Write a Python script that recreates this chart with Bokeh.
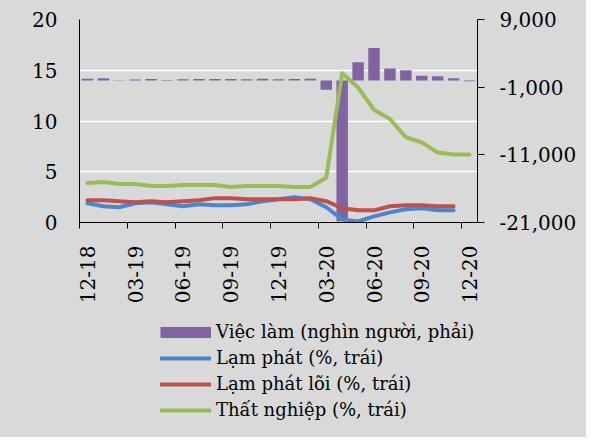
import math
from bokeh.plotting import figure
from bokeh.layouts import column
from bokeh.models import (Range1d, LinearAxis, FixedTicker, NumeralTickFormatter,
                          Legend, LegendItem, ColumnDataSource)
from bokeh.embed import file_html
from bokeh.resources import INLINE

# ---- data ----
months = ["12-18", "01-19", "02-19", "03-19", "04-19", "05-19", "06-19", "07-19", "08-19",
          "09-19", "10-19", "11-19", "12-19", "01-20", "02-20", "03-20", "04-20", "05-20",
          "06-20", "07-20", "08-20", "09-20", "10-20", "11-20", "12-20"]
tick_labels = ["12-18", "03-19", "06-19", "09-19", "12-19", "03-20", "06-20", "09-20", "12-20"]
employment = [230, 310, 30, 150, 210, 70, 180, 190, 200, 200, 180, 260, 180, 210, 250,
              -1380, -20800, 2690, 4800, 1750, 1510, 680, 610, 330, -140]
inflation = [1.9, 1.6, 1.5, 1.9, 2.0, 1.8, 1.6, 1.8, 1.7, 1.7, 1.8, 2.1, 2.3, 2.5, 2.3,
             1.5, 0.3, 0.1, 0.6, 1.0, 1.3, 1.4, 1.2, 1.2]
core_inflation = [2.2, 2.2, 2.1, 2.0, 2.1, 2.0, 2.1, 2.2, 2.4, 2.4, 2.3, 2.3, 2.3, 2.3, 2.4,
                  2.1, 1.4, 1.2, 1.2, 1.6, 1.7, 1.7, 1.6, 1.6]
unemployment = [3.9, 4.0, 3.8, 3.8, 3.6, 3.6, 3.7, 3.7, 3.7, 3.5, 3.6, 3.6, 3.6, 3.5, 3.5,
                4.4, 14.7, 13.3, 11.1, 10.2, 8.4, 7.9, 6.9, 6.7, 6.7]
left_ticks = [0, 5, 10, 15, 20]
right_ticks = [-21000, -11000, -1000, 9000]
series_names = ["Việc làm (nghìn người, phải)", "Lạm phát (%, trái)",
                "Lạm phát lõi (%, trái)", "Thất nghiệp (%, trái)"]

FONT = "DejaVu Serif"
BG = "#d9d9d9"
PURPLE = "#8064a2"
BLUE = "#4a86cc"
RED = "#c0504d"
GREEN = "#9bbb59"
LW = 4
NAN = float("nan")

n = len(months)
xc = [i + 0.5 for i in range(n)]

p = figure(width=586, height=306, output_backend="svg", toolbar_location=None,
           x_range=Range1d(0, n), y_range=Range1d(0, 20),
           min_border_left=79, min_border_right=109, min_border_top=19, min_border_bottom=77)
p.background_fill_color = BG
p.border_fill_color = BG
p.outline_line_color = None

p.extra_y_ranges = {"emp": Range1d(-21000, 9000)}

# grid
p.xgrid.visible = False
p.ygrid.ticker = FixedTicker(ticks=left_ticks)
p.ygrid.grid_line_color = "white"
p.ygrid.grid_line_width = 1.5

# bars
src_bar = ColumnDataSource(dict(x=xc, top=employment))
p.vbar(x="x", top="top", bottom=0, width=0.72, source=src_bar, y_range_name="emp",
       fill_color=PURPLE, line_color=None)

# lines
p.line(xc[:len(inflation)], inflation, line_color=BLUE, line_width=LW,
       line_cap="round", line_join="round")
p.line(xc[:len(core_inflation)], core_inflation, line_color=RED, line_width=LW,
       line_cap="round", line_join="round")
p.line(xc, unemployment, line_color=GREEN, line_width=LW,
       line_cap="round", line_join="round")

# left axis
ya = p.yaxis[0]
ya.ticker = FixedTicker(ticks=left_ticks)
ya.major_tick_out = 0
ya.major_tick_in = 0
ya.minor_tick_line_color = None
ya.axis_line_color = "black"
ya.axis_line_width = 1
ya.major_label_standoff = 22
ya.major_label_text_font = FONT
ya.major_label_text_font_size = "20px"
ya.major_label_text_color = "black"

# right axis
ra = LinearAxis(y_range_name="emp", ticker=FixedTicker(ticks=right_ticks),
                formatter=NumeralTickFormatter(format="0,0"))
ra.major_tick_out = 7
ra.major_tick_in = 0
ra.minor_tick_line_color = None
ra.axis_line_color = "black"
ra.major_tick_line_color = "black"
ra.major_label_standoff = 15
ra.major_label_text_font = FONT
ra.major_label_text_font_size = "20px"
ra.major_label_text_color = "black"
p.add_layout(ra, "right")

# bottom axis: labels at category centres, tick marks at boundaries (minor ticks)
label_pos = [months.index(t) + 0.5 for t in tick_labels]
xa = p.xaxis[0]
xa.ticker = FixedTicker(ticks=label_pos, minor_ticks=[i for i in range(0, n, 3)])
xa.major_label_overrides = {pos: t for pos, t in zip(label_pos, tick_labels)}
xa.major_tick_line_color = None
xa.major_tick_out = 0
xa.major_tick_in = 0
xa.minor_tick_line_color = "black"
xa.minor_tick_out = 6
xa.minor_tick_in = 0
xa.axis_line_color = "black"
xa.major_label_orientation = math.pi / 2
xa.major_label_standoff = 17
xa.major_label_text_font = FONT
xa.major_label_text_font_size = "20px"
xa.major_label_text_color = "black"

# legend panel (second figure below the chart)
q = figure(width=586, height=131, output_backend="svg", toolbar_location=None,
           x_range=Range1d(0, 1), y_range=Range1d(0, 1),
           x_axis_location=None, y_axis_location=None,
           min_border_left=0, min_border_right=0, min_border_top=0, min_border_bottom=0)
q.background_fill_alpha = 0
q.border_fill_color = BG
q.outline_line_color = None
q.grid.visible = False
k_bar = q.line([NAN, NAN], [NAN, NAN], line_color=PURPLE, line_width=11, line_cap="butt")
k_blue = q.line([NAN, NAN], [NAN, NAN], line_color=BLUE, line_width=LW, line_cap="round")
k_red = q.line([NAN, NAN], [NAN, NAN], line_color=RED, line_width=LW, line_cap="round")
k_green = q.line([NAN, NAN], [NAN, NAN], line_color=GREEN, line_width=LW, line_cap="round")

legend = Legend(items=[
    LegendItem(label=series_names[0], renderers=[k_bar]),
    LegendItem(label=series_names[1], renderers=[k_blue]),
    LegendItem(label=series_names[2], renderers=[k_red]),
    LegendItem(label=series_names[3], renderers=[k_green]),
], location=(81, 17))
legend.background_fill_alpha = 0
legend.border_line_color = None
legend.padding = 0
legend.margin = 0
legend.spacing = 5
legend.glyph_width = 51
legend.glyph_height = 20
legend.label_height = 20
legend.label_standoff = 5
legend.label_text_font = FONT
legend.label_text_font_size = "18px"
legend.label_text_color = "black"
legend.label_text_baseline = "middle"
q.add_layout(legend, "center")

layout = column(p, q, spacing=0, styles={"background-color": BG})
open("out.html", "w").write(file_html(layout, INLINE))
